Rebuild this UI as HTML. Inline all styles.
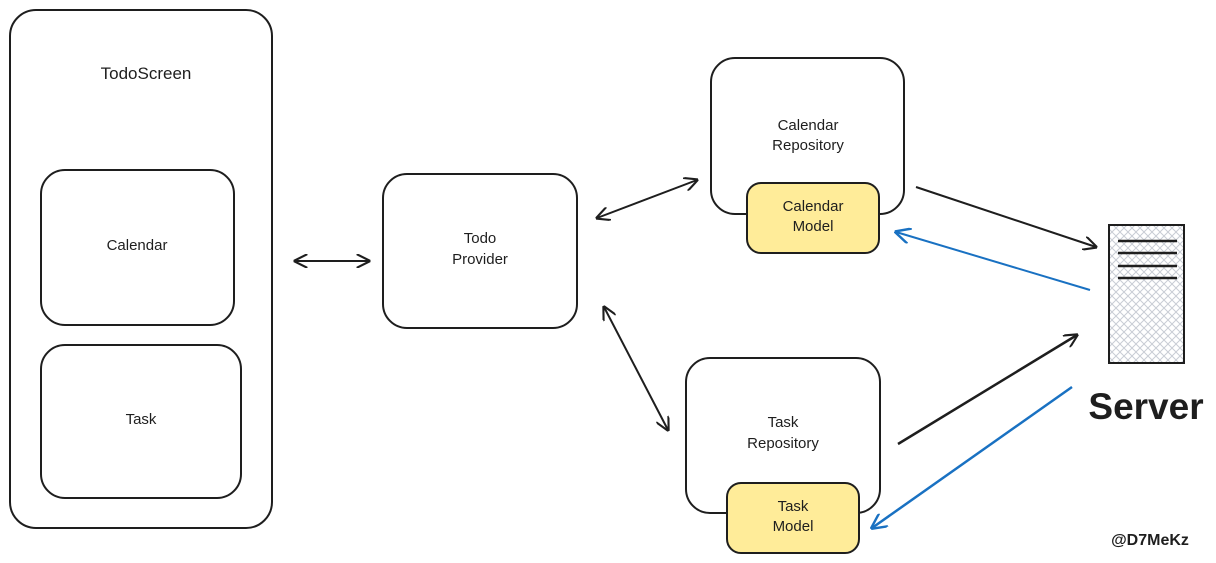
<!DOCTYPE html>
<html><head><meta charset="utf-8"><style>
html,body{margin:0;padding:0;background:#fff;}
svg{display:block;}
text{font-family:"Liberation Sans",sans-serif;fill:#1e1e1e;text-anchor:middle;}
</style></head><body>
<svg width="1216" height="563" viewBox="0 0 1216 563" xmlns="http://www.w3.org/2000/svg">
<defs>
<pattern id="hatch" width="8" height="8" patternUnits="userSpaceOnUse">
<path d="M0 0L8 8M8 0L0 8" stroke="#c8ccd4" stroke-width="1"/>
</pattern>
<marker id="ab" viewBox="0 0 10 10" refX="9" refY="5" markerWidth="14" markerHeight="14" orient="auto-start-reverse" markerUnits="userSpaceOnUse">
<path d="M0 0L10 5L0 10" fill="none" stroke="#1e1e1e" stroke-width="1.5"/></marker>
<marker id="abl" viewBox="0 0 10 10" refX="9" refY="5" markerWidth="16" markerHeight="16" orient="auto" markerUnits="userSpaceOnUse">
<path d="M0 0L10 5L0 10" fill="none" stroke="#1971c2" stroke-width="1.5"/></marker>
</defs>
<g fill="none" stroke="#1e1e1e" stroke-width="2">
<rect x="10" y="10" width="262" height="518" rx="26"/>
<rect x="41" y="170" width="193" height="155" rx="24"/>
<rect x="41" y="345" width="200" height="153" rx="24"/>
<rect x="383" y="174" width="194" height="154" rx="24"/>
<rect x="711" y="58" width="193" height="156" rx="24"/>
<rect x="686" y="358" width="194" height="155" rx="24"/>
</g>
<rect x="747" y="183" width="132" height="70" rx="14" fill="#ffec99" stroke="#1e1e1e" stroke-width="2"/>
<rect x="727" y="483" width="132" height="70" rx="14" fill="#ffec99" stroke="#1e1e1e" stroke-width="2"/>
<rect x="1109" y="225" width="75" height="138" fill="url(#hatch)" stroke="#1e1e1e" stroke-width="2"/>
<g stroke="#1e1e1e" stroke-width="2.5">
<line x1="1118" y1="241" x2="1177" y2="241"/><line x1="1118" y1="253" x2="1177" y2="253"/>
<line x1="1118" y1="266" x2="1177" y2="266"/><line x1="1118" y1="278" x2="1177" y2="278"/>
</g>
<g stroke="#1e1e1e" stroke-width="2" fill="none">
<line x1="295" y1="261" x2="369" y2="261" marker-start="url(#ab)" marker-end="url(#ab)"/>
<line x1="597" y1="218" x2="697" y2="180" marker-start="url(#ab)" marker-end="url(#ab)"/>
<line x1="604" y1="307" x2="668" y2="430" marker-start="url(#ab)" marker-end="url(#ab)"/>
<line x1="916" y1="187" x2="1096" y2="247" marker-end="url(#ab)"/>
<line x1="898" y1="444" x2="1077" y2="335" marker-end="url(#ab)" stroke-width="2.5"/>
</g>
<g stroke="#1971c2" stroke-width="2" fill="none">
<line x1="1090" y1="290" x2="896" y2="232" marker-end="url(#abl)"/>
<line x1="1072" y1="387" x2="872" y2="528" marker-end="url(#abl)" stroke-width="2.5"/>
</g>
<text x="146" y="79" font-size="17">TodoScreen</text>
<text x="137" y="250" font-size="15">Calendar</text>
<text x="141" y="424" font-size="15">Task</text>
<text x="480" y="243" font-size="15">Todo</text>
<text x="480" y="264" font-size="15">Provider</text>
<text x="808" y="130" font-size="15">Calendar</text>
<text x="808" y="150" font-size="15">Repository</text>
<text x="813" y="211" font-size="15">Calendar</text>
<text x="813" y="231" font-size="15">Model</text>
<text x="783" y="427" font-size="15">Task</text>
<text x="783" y="448" font-size="15">Repository</text>
<text x="793" y="511" font-size="15">Task</text>
<text x="793" y="531" font-size="15">Model</text>
<text x="1146" y="419" font-size="37" font-weight="bold">Server</text>
<text x="1150" y="545" font-size="16" font-weight="bold">@D7MeKz</text>
</svg>
</body></html>
